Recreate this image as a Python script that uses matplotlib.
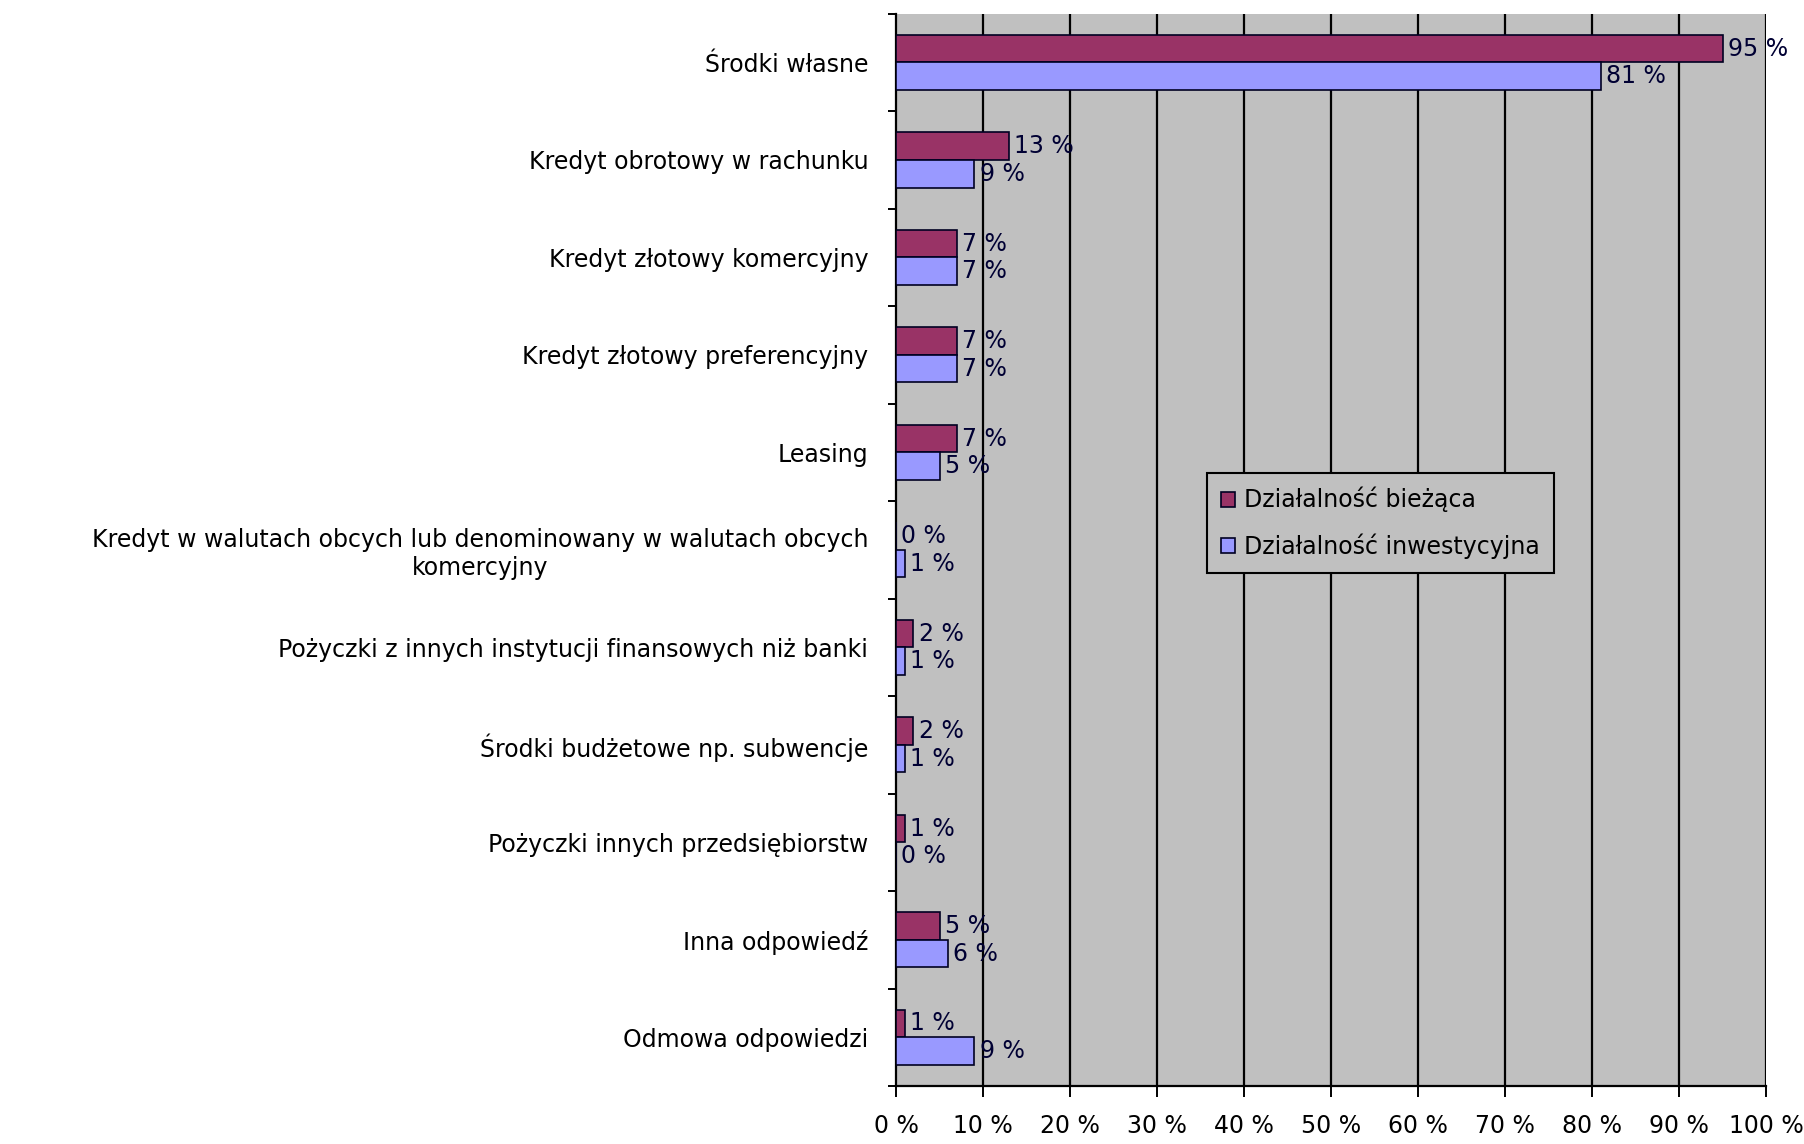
import matplotlib
matplotlib.use("Agg")
import matplotlib.pyplot as plt
import numpy as np

categories = [
    "Środki własne",
    "Kredyt obrotowy w rachunku",
    "Kredyt złotowy komercyjny",
    "Kredyt złotowy preferencyjny",
    "Leasing",
    "Kredyt w walutach obcych lub denominowany w walutach obcych\nkomercyjny",
    "Pożyczki z innych instytucji finansowych niż banki",
    "Środki budżetowe np. subwencje",
    "Pożyczki innych przedsiębiorstw",
    "Inna odpowiedź",
    "Odmowa odpowiedzi",
]
biezaca = [95, 13, 7, 7, 7, 0, 2, 2, 1, 5, 1]
inwestycyjna = [81, 9, 7, 7, 5, 1, 1, 1, 0, 6, 9]
series_names = ["Działalność bieżąca", "Działalność inwestycyjna"]
xticks = [0, 10, 20, 30, 40, 50, 60, 70, 80, 90, 100]
xtick_labels = [f"{v} %" for v in xticks]

plt.rcParams['font.family'] = ['DejaVu Sans']
FS = 17

fig = plt.figure(figsize=(18.04, 11.44), dpi=100)
ax = fig.add_axes([0.4967, 0.0507, 0.979 - 0.4967, 0.988 - 0.0507])
ax.set_facecolor('#C0C0C0')

y = np.arange(len(categories))
h = 0.283
ax.barh(y - h / 2, biezaca, height=h, color='#993366', edgecolor='#000022', linewidth=1.2, label=series_names[0], zorder=3)
ax.barh(y + h / 2, inwestycyjna, height=h, color='#9999FF', edgecolor='#000022', linewidth=1.2, label=series_names[1], zorder=3)

for yy, v in zip(y - h / 2, biezaca):
    ax.text(v + 0.6, yy, f"{v} %", va='center', ha='left', fontsize=FS, color='#000033', zorder=4)
for yy, v in zip(y + h / 2, inwestycyjna):
    ax.text(v + 0.6, yy, f"{v} %", va='center', ha='left', fontsize=FS, color='#000033', zorder=4)

ax.set_xlim(0, 100)
ax.set_ylim(len(categories) - 0.5, -0.5)

for gx in xticks[1:]:
    ax.axvline(gx, color='black', linewidth=1.6, zorder=1)

ax.set_xticks(xticks)
ax.set_xticklabels(xtick_labels, fontsize=FS)
ax.tick_params(axis='x', direction='out', length=8, width=1.4, pad=12)

ax.set_yticks(y)
ax.set_yticklabels(categories, fontsize=FS, multialignment='center')
ax.set_yticks(np.arange(len(categories) + 1) - 0.5, minor=True)
ax.tick_params(axis='y', which='major', length=0, pad=20)
ax.tick_params(axis='y', which='minor', direction='out', length=6, width=1.4)

ax.spines['top'].set_visible(False)
ax.spines['right'].set_visible(False)
ax.spines['left'].set_linewidth(1.6)
ax.spines['bottom'].set_linewidth(1.6)

leg = ax.legend(loc='upper left', bbox_to_anchor=(0.357, 0.572), fontsize=FS,
                frameon=True, fancybox=False, edgecolor='black', facecolor='#C0C0C0',
                framealpha=1, handlelength=0.6, handleheight=0.6, handletextpad=0.4,
                labelspacing=0.9, borderpad=0.6, borderaxespad=0)
leg.get_frame().set_linewidth(1.5)
leg.set_zorder(5)

fig.savefig("out.png", dpi=100)
